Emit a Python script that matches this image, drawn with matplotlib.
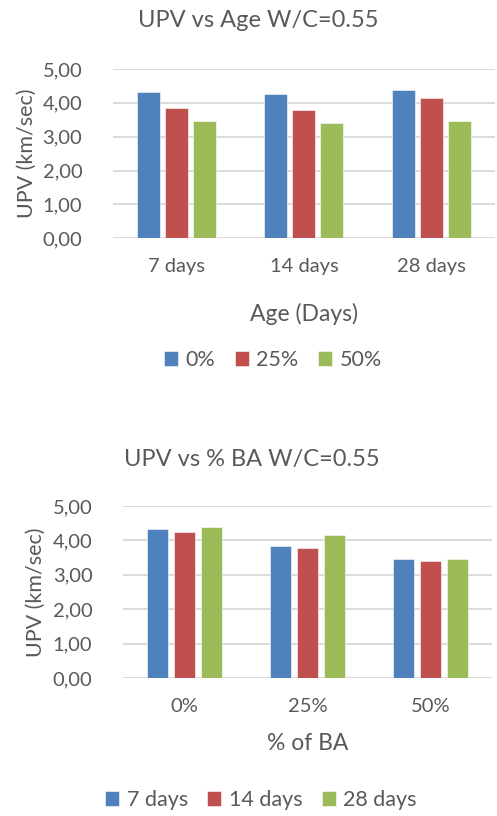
import numpy as np
import matplotlib.pyplot as plt

ages = ['7 days', '14 days', '28 days']
ba_levels = ['0%', '25%', '50%']

# UPV (km/sec), rows = % BA, columns = age
upv_0 = [4.32, 4.25, 4.39]
upv_25 = [3.85, 3.78, 4.15]
upv_50 = [3.45, 3.39, 3.46]

colors = ['#4f81bd', '#c0504d', '#9bbb59']
txt = '#595959'
grid = '#d9d9d9'

plt.rcParams['font.family'] = ['Lato', 'DejaVu Sans']

fig = plt.figure(figsize=(4.97, 8.16), dpi=100)


def style(ax):
    ax.set_ylim(0, 5)
    ax.set_xlim(-0.5, 2.5)
    ticks = np.arange(0, 5.01, 1)
    ax.set_yticks(ticks)
    ax.set_yticklabels([('%.2f' % v).replace('.', ',') for v in ticks])
    ax.yaxis.grid(True, color=grid, linewidth=1.3)
    ax.set_axisbelow(True)
    for s in ax.spines.values():
        s.set_visible(False)
    ax.tick_params(length=0, colors=txt)
    ax.tick_params(axis='y', pad=22, labelsize=14.5)
    ax.tick_params(axis='x', pad=14, labelsize=14.5)


w = 0.18
off = 0.22
x = np.arange(3)
leg_kw = dict(ncol=3, frameon=False, handlelength=0.65, handleheight=0.65,
              handletextpad=0.35, columnspacing=0.9, labelcolor=txt,
              fontsize=15.5, loc='center', bbox_transform=fig.transFigure)

# UPV vs age
ax1 = fig.add_axes([0.227, 0.708, 0.769, 0.2075])
for i, (vals, lab) in enumerate(zip([upv_0, upv_25, upv_50], ba_levels)):
    ax1.bar(x + (i - 1) * off, vals, w, color=colors[i], label=lab,
            edgecolor='white', linewidth=0.4)
style(ax1)
ax1.set_xticks(x)
ax1.set_xticklabels(ages)
ax1.set_xlabel('Age (Days)', color=txt, fontsize=16.5, labelpad=20)
ax1.set_ylabel('UPV (km/sec)', color=txt, fontsize=15.5, va='center')
ax1.yaxis.set_label_coords(-0.224, 0.5)
ax1.set_title('UPV vs Age W/C=0.55', color=txt, fontsize=17, pad=30, x=0.38)
ax1.legend(bbox_to_anchor=(273 / 497, 1 - 360 / 816), **leg_kw)

# UPV vs % BA
by_age = np.array([upv_0, upv_25, upv_50]).T
w2 = 0.175
ax2 = fig.add_axes([0.2475, 0.169, 0.7425, 0.211])
for i, (vals, lab) in enumerate(zip(by_age, ages)):
    ax2.bar(x + (i - 1) * off, vals, w2, color=colors[i], label=lab,
            edgecolor='white', linewidth=0.4)
style(ax2)
ax2.set_xticks(x)
ax2.set_xticklabels(ba_levels)
ax2.set_xlabel('% of BA', color=txt, fontsize=16.5, labelpad=13)
ax2.set_ylabel('UPV (km/sec)', color=txt, fontsize=15.5, va='center')
ax2.yaxis.set_label_coords(-0.236, 0.5)
ax2.set_title('UPV vs % BA W/C=0.55', color=txt, fontsize=17, pad=29, x=0.35)
ax2.legend(bbox_to_anchor=(261 / 497, 1 - 800 / 816), **leg_kw)

fig.savefig('out.png', dpi=100)
